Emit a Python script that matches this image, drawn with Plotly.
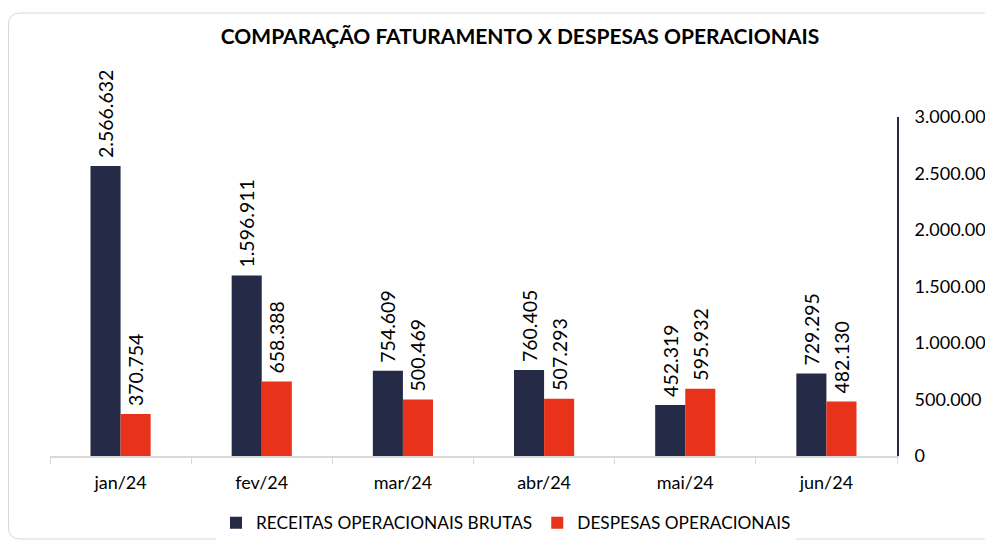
import plotly.graph_objects as go

months = ["jan/24", "fev/24", "mar/24", "abr/24", "mai/24", "jun/24"]
receitas = [2566632, 1596911, 754609, 760405, 452319, 729295]
despesas = [370754, 658388, 500469, 507293, 595932, 482130]
y_ticks = [0, 500000, 1000000, 1500000, 2000000, 2500000, 3000000]
y_tick_text = ["0", "500.000", "1.000.000", "1.500.000", "2.000.000", "2.500.000", "3.000.000"]

NAVY = "#252a46"
RED = "#e8321a"
FONT = "Lato"


def fmt(v):
    return "\u00a0" + f"{v:,}".replace(",", ".")


W, H = 993, 542
L, R, T, B = 42, 104, 109, 94
pw, ph = W - L - R, H - T - B

fig = go.Figure()
fig.add_trace(go.Bar(
    x=months, y=receitas, name="RECEITAS OPERACIONAIS BRUTAS",
    marker=dict(color=NAVY, line=dict(width=0)),
    text=[fmt(v) for v in receitas], textposition="outside", textangle=-90,
    textfont=dict(family=FONT, size=19.5, color="#000000"),
    constraintext="none", cliponaxis=False,
))
fig.add_trace(go.Bar(
    x=months, y=despesas, name="DESPESAS OPERACIONAIS",
    marker=dict(color=RED, line=dict(width=0)),
    text=[fmt(v) for v in despesas], textposition="outside", textangle=-90,
    textfont=dict(family=FONT, size=19.5, color="#000000"),
    constraintext="none", cliponaxis=False,
))


def px2paper(x, y):
    return (x - L) / pw, (H - B - y) / ph


# rounded chart border (decoration)
x0, y0, x1, y1, r = 0.5, 5, 1010, 531, 12
a = px2paper(x0 + r, y0)
b = px2paper(x1, y0)
c = px2paper(x1, y1)
d = px2paper(x0 + r, y1)
e = px2paper(x0, y1)
f = px2paper(x0, y1 - r)
g = px2paper(x0, y0 + r)
h = px2paper(x0, y0)
path = (f"M {a[0]} {a[1]} L {b[0]} {b[1]} L {c[0]} {c[1]} L {d[0]} {d[1]} "
        f"Q {e[0]} {e[1]} {f[0]} {f[1]} L {g[0]} {g[1]} Q {h[0]} {h[1]} {a[0]} {a[1]}")

fig.update_layout(
    width=W, height=H,
    margin=dict(l=L, r=R, t=T, b=B, autoexpand=False),
    paper_bgcolor="white", plot_bgcolor="white",
    font=dict(family=FONT, color="#000000"),
    barmode="group", bargap=0.574, bargroupgap=0,
    title=dict(text="<b>COMPARAÇÃO FATURAMENTO X DESPESAS OPERACIONAIS</b>",
               x=512 / W, xref="container", xanchor="center",
               y=1 - 29 / H, yref="container", yanchor="middle",
               font=dict(family=FONT, size=21, color="#000000")),
    xaxis=dict(showline=True, linecolor="#d9d9d9", linewidth=1.5,
               ticks="outside", tickson="boundaries", ticklen=6, tickcolor="#d9d9d9",
               tickfont=dict(family=FONT, size=18, color="#000000"),
               ticklabelstandoff=10, showgrid=False, zeroline=False),
    yaxis=dict(side="right", range=[0, 3000000], tickvals=y_ticks, ticktext=y_tick_text,
               showline=True, linecolor=NAVY, linewidth=2, ticks="",
               tickfont=dict(family=FONT, size=18, color="#000000"),
               ticklabelstandoff=12, showgrid=False, zeroline=False),
    legend=dict(orientation="h", x=(498 - L) / pw, xanchor="center",
                y=-(515 - (H - B)) / ph, yanchor="middle",
                font=dict(family=FONT, size=17.3, color="#000000"),
                itemwidth=30, traceorder="normal"),
    shapes=[dict(type="path", xref="paper", yref="paper", path=path,
                 line=dict(color="#d9d9d9", width=1), layer="below")],
)

fig.write_html("out.html")
